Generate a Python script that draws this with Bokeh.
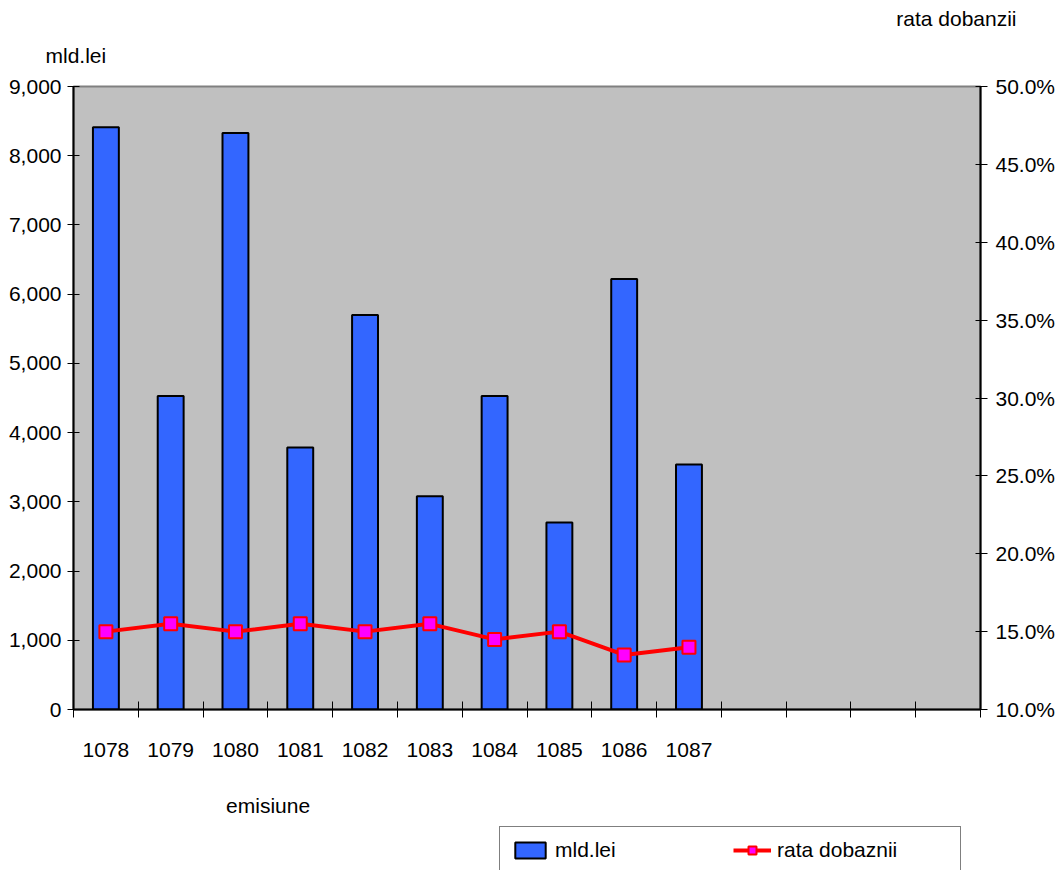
from bokeh.plotting import figure
from bokeh.layouts import column
from bokeh.models import (FactorRange, Range1d, LinearAxis, CategoricalAxis, FixedTicker,
                          SingleIntervalTicker, NumeralTickFormatter, Label, Legend, LegendItem,
                          ColumnDataSource, Title)
from bokeh.embed import file_html
from bokeh.resources import INLINE

# ---- data ----
issues = ["1078", "1079", "1080", "1081", "1082", "1083", "1084", "1085", "1086", "1087"]
empty_slots = [" ", "  ", "   ", "    "]
amount_bn_lei = [8410, 4530, 8330, 3785, 5700, 3080, 4530, 2700, 6220, 3540]
interest_rate = [0.150, 0.155, 0.150, 0.155, 0.150, 0.155, 0.145, 0.150, 0.135, 0.140]
left_title = "mld.lei"
right_title = "rata dobanzii"
x_title = "emisiune"
legend_labels = ["mld.lei", "rata dobaznii"]

FONT = "Liberation Sans"
FS = "21px"
W = 1058
BL, BR = 73, 76
BAR_FILL = "#3366FF"
LINE_RED = "#FF0000"
MARK_FILL = "#FF00FF"

factors = issues + empty_slots
src = ColumnDataSource(dict(issue=issues, amount=amount_bn_lei, rate=interest_rate))

# ---- main chart ----
H1 = 780
p = figure(width=W, height=H1, output_backend="svg", toolbar_location=None,
           x_range=FactorRange(factors=factors), y_range=Range1d(0, 9000),
           x_axis_location=None, y_axis_location="left",
           min_border_left=BL, min_border_right=BR, min_border_top=86, min_border_bottom=71)
p.extra_y_ranges = {"rate": Range1d(0.10, 0.50)}

p.background_fill_color = "#C0C0C0"
p.border_fill_color = "white"
p.outline_line_color = "#808080"
p.outline_line_width = 2
p.xgrid.visible = False
p.ygrid.visible = False

ly = p.yaxis[0]
ly.ticker = SingleIntervalTicker(interval=1000, num_minor_ticks=0)
ly.formatter = NumeralTickFormatter(format="0,0")
ly.major_tick_in = 6
ly.major_tick_out = 6
ly.minor_tick_line_color = None
ly.axis_line_color = "black"
ly.axis_line_width = 2
ly.major_tick_line_color = "black"
ly.major_label_text_font = FONT
ly.major_label_text_font_size = FS
ly.major_label_text_color = "black"
ly.major_label_standoff = 6

ry = LinearAxis(y_range_name="rate", ticker=SingleIntervalTicker(interval=0.05, num_minor_ticks=0),
                formatter=NumeralTickFormatter(format="0.0%"))
ry.major_tick_in = 5
ry.major_tick_out = 7
ry.minor_tick_line_color = None
ry.axis_line_color = "black"
ry.axis_line_width = 2
ry.major_label_text_font = FONT
ry.major_label_text_font_size = FS
ry.major_label_text_color = "black"
ry.major_label_standoff = 8
p.add_layout(ry, "right")

# slot-boundary ticks on the category axis (synthetic category coordinates)
n_slots = len(factors)
tx = LinearAxis(ticker=FixedTicker(ticks=list(range(n_slots + 1))),
                major_label_overrides={i: "" for i in range(n_slots + 1)})
tx.major_tick_in = 8
tx.major_tick_out = 8
tx.minor_tick_line_color = None
tx.axis_line_color = "black"
tx.axis_line_width = 2
tx.major_label_text_font_size = "1px"
tx.major_label_standoff = 0
p.add_layout(tx, "below")

cx = CategoricalAxis()
cx.major_tick_line_color = None
cx.axis_line_color = None
cx.major_label_text_font = FONT
cx.major_label_text_font_size = FS
cx.major_label_text_color = "black"
cx.major_label_standoff = 14
p.add_layout(cx, "below")

p.vbar(x="issue", top="amount", width=0.4, source=src,
       fill_color=BAR_FILL, line_color="black", line_width=2)
p.line(x="issue", y="rate", source=src, y_range_name="rate",
       line_color=LINE_RED, line_width=4)
p.scatter(x="issue", y="rate", source=src, y_range_name="rate", marker="square",
          size=13, fill_color=MARK_FILL, line_color=LINE_RED, line_width=2)

# axis titles above the chart
t_left = Title(text=left_title, align="left", offset=-28, standoff=40,
               text_font=FONT, text_font_size=FS, text_font_style="normal", text_color="black")
t_right = Title(text=right_title, align="right", offset=-36, standoff=-16,
                text_font=FONT, text_font_size=FS, text_font_style="normal", text_color="black")
p.add_layout(t_left, "above")
p.add_layout(t_right, "above")

# ---- bottom strip: x title and legend ----
H2 = 870 - H1
p2 = figure(width=W, height=H2, output_backend="svg", toolbar_location=None,
            x_range=Range1d(BL, W - BR), y_range=Range1d(0, H2),
            x_axis_location=None, y_axis_location=None,
            min_border_left=BL, min_border_right=BR, min_border_top=0, min_border_bottom=0)
p2.outline_line_color = None
p2.background_fill_color = "white"
p2.border_fill_color = "white"
p2.xgrid.visible = False
p2.ygrid.visible = False
p2.add_layout(Label(x=268, y=870 - 805, text=x_title, text_font=FONT, text_font_size=FS,
                    text_baseline="middle", text_align="center", text_color="black"))

# legend keys: hidden renderers styled like the chart's series
key_src = ColumnDataSource(dict(x=[0], y=[0]))
k_bar = p2.vbar(x="x", top="y", width=1, source=key_src, visible=False,
                fill_color=BAR_FILL, line_color="black", line_width=2)
k_line = p2.line(x="x", y="y", source=key_src, visible=False, line_color=LINE_RED, line_width=4)
k_pts = p2.scatter(x="x", y="y", source=key_src, visible=False, marker="square", size=13,
                   fill_color=MARK_FILL, line_color=LINE_RED, line_width=2)

legend = Legend(items=[LegendItem(label=legend_labels[0], renderers=[k_bar]),
                       LegendItem(label=legend_labels[1], renderers=[k_line, k_pts])],
                orientation="horizontal", location=(499 - BL, -4))
legend.label_text_font = FONT
legend.label_text_font_size = FS
legend.label_text_color = "black"
legend.glyph_width = 38
legend.glyph_height = 20
legend.label_standoff = 6
legend.label_width = 172
legend.label_height = 20
legend.spacing = 6
legend.padding = 11
legend.margin = 0
legend.border_line_color = "black"
legend.border_line_width = 1
legend.background_fill_color = "white"
legend.background_fill_alpha = 1
p2.add_layout(legend, "center")

layout = column(p, p2, spacing=0)
open("out.html", "w").write(file_html(layout, INLINE))
